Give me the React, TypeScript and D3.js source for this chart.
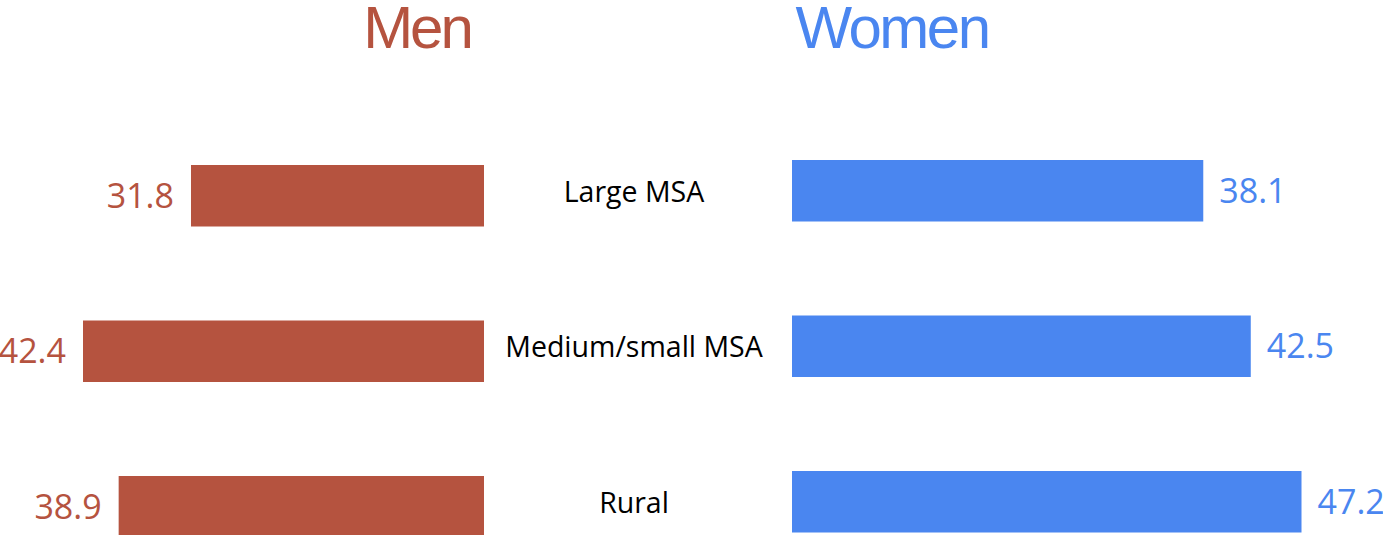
import React from "react";
import * as d3 from "d3";

const categories = ["Large MSA", "Medium/small MSA", "Rural"];
const menValues = [31.8, 42.4, 38.9];
const womenValues = [38.1, 42.5, 47.2];

const MEN_COLOR = "#b5533f";
const WOMEN_COLOR = "#4a86f0";

const App = () => {
    const width = 1383;
    const height = 535;

    // vertical bands (women rows), men rows sit slightly lower
    const y = d3.scaleBand<string>()
        .domain(categories)
        .range([160, 532.5])
        .paddingInner(0.6045)
        .paddingOuter(0);
    const menShift = 5;

    // men bars grow leftwards from x=484
    const xMen = d3.scaleLinear().domain([3.04, 42.4]).range([484, 83]);
    // women bars grow rightwards from x=792
    const xWomen = d3.scaleLinear().domain([0, 47.2]).range([792, 1301.5]);

    const bw = y.bandwidth();

    return (
        <svg width={width} height={height}
            style={{ position: "absolute", left: 0, top: 0, background: "#fff" }}>
            <text x={417} y={48} textAnchor="middle" fill={MEN_COLOR}
                fontFamily="Liberation Sans, Arial, sans-serif" fontSize={60}
                letterSpacing={-3}>Men</text>
            <text x={892} y={48} textAnchor="middle" fill={WOMEN_COLOR}
                fontFamily="Liberation Sans, Arial, sans-serif" fontSize={60}
                letterSpacing={-2.5}>Women</text>

            {categories.map((c, i) => {
                const yw = y(c)!;
                const ym = yw + menShift;
                const menLeft = xMen(menValues[i]);
                const womenRight = xWomen(womenValues[i]);
                return (
                    <g key={c}>
                        <rect x={menLeft} y={ym} width={xMen.range()[0] - menLeft}
                            height={bw} fill={MEN_COLOR} />
                        <text x={menLeft - 17} y={ym + bw / 2 + 12} textAnchor="end"
                            fill={MEN_COLOR} fontFamily="Open Sans, sans-serif"
                            fontSize={34}>{menValues[i].toFixed(1)}</text>

                        <rect x={xWomen.range()[0]} y={yw} width={womenRight - xWomen.range()[0]}
                            height={bw} fill={WOMEN_COLOR} />
                        <text x={womenRight + 16} y={yw + bw / 2 + 12} textAnchor="start"
                            fill={WOMEN_COLOR} fontFamily="Open Sans, sans-serif"
                            fontSize={34}>{womenValues[i].toFixed(1)}</text>

                        <text x={634} y={yw + bw / 2 + 11} textAnchor="middle"
                            fill="#000" fontFamily="Open Sans, sans-serif"
                            fontSize={28.5}>{c}</text>
                    </g>
                );
            })}
        </svg>
    );
};

export default App;
